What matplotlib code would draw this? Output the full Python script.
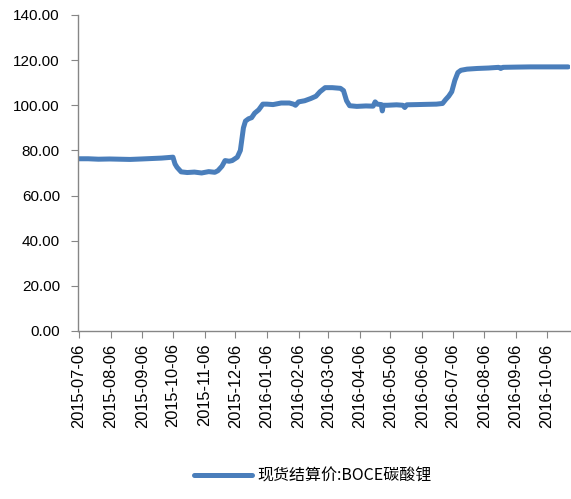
import matplotlib
matplotlib.use("Agg")
import matplotlib.pyplot as plt
import pandas as pd

plt.rcParams['font.family'] = ['Noto Sans CJK SC', 'DejaVu Sans']

series_name = "现货结算价:BOCE碳酸锂"
dates = [
    "2015-07-06", "2015-07-15", "2015-07-25", "2015-08-05", "2015-08-15", "2015-08-25",
    "2015-09-05", "2015-09-15", "2015-09-25", "2015-10-06", "2015-10-08", "2015-10-10",
    "2015-10-14", "2015-10-20", "2015-10-27", "2015-11-03", "2015-11-10", "2015-11-16",
    "2015-11-19", "2015-11-23", "2015-11-26", "2015-11-30", "2015-12-03", "2015-12-08",
    "2015-12-11", "2015-12-14", "2015-12-16", "2015-12-19", "2015-12-22", "2015-12-25",
    "2015-12-29", "2016-01-02", "2016-01-06", "2016-01-12", "2016-01-20", "2016-01-28",
    "2016-02-01", "2016-02-03", "2016-02-06", "2016-02-12", "2016-02-18", "2016-02-23",
    "2016-02-27", "2016-03-03", "2016-03-10", "2016-03-18", "2016-03-21", "2016-03-24",
    "2016-03-27", "2016-04-03", "2016-04-12", "2016-04-19", "2016-04-21", "2016-04-23",
    "2016-04-27", "2016-04-28", "2016-04-29", "2016-05-03", "2016-05-12", "2016-05-18",
    "2016-05-20", "2016-05-22", "2016-06-01", "2016-06-10", "2016-06-20", "2016-06-26",
    "2016-06-29", "2016-07-02", "2016-07-05", "2016-07-08", "2016-07-11", "2016-07-14",
    "2016-07-20", "2016-07-30", "2016-08-10", "2016-08-20", "2016-08-22", "2016-08-24",
    "2016-09-05", "2016-09-20", "2016-10-05", "2016-10-20", "2016-10-27",
]
values = [
    76.3, 76.3, 76.1, 76.2, 76.1, 76.0,
    76.2, 76.4, 76.6, 77.0, 74.0, 72.5,
    70.5, 70.2, 70.4, 70.0, 70.6, 70.3,
    71.0, 73.0, 75.5, 75.2, 75.5, 77.0,
    80.0, 90.0, 93.0, 94.0, 94.5, 96.5,
    98.0, 100.5, 100.5, 100.3, 101.0, 101.0,
    100.5, 100.0, 101.5, 102.0, 103.0, 104.0,
    106.0, 107.8, 107.8, 107.5, 106.5, 102.0,
    99.8, 99.5, 99.7, 99.6, 101.5, 100.5,
    100.3, 97.5, 100.0, 100.0, 100.2, 100.0,
    99.0, 100.2, 100.3, 100.4, 100.5, 100.8,
    102.5, 104.0, 106.0, 111.0, 114.5, 115.5,
    116.0, 116.3, 116.5, 116.8, 116.3, 116.8,
    116.9, 117.0, 117.0, 117.0, 117.0,
]
xtick_labels = [
    "2015-07-06", "2015-08-06", "2015-09-06", "2015-10-06", "2015-11-06", "2015-12-06",
    "2016-01-06", "2016-02-06", "2016-03-06", "2016-04-06", "2016-05-06", "2016-06-06",
    "2016-07-06", "2016-08-06", "2016-09-06", "2016-10-06",
]
yticks = [0, 20, 40, 60, 80, 100, 120, 140]

x = pd.to_datetime(dates)
color = "#4A7EBB"
grey = "#868686"
latin = ['Liberation Sans', 'DejaVu Sans']

fig = plt.figure(figsize=(5.71, 4.99), dpi=100)
ax = fig.add_axes([0.1366, 0.3367, 0.862, 0.6333])
ax.plot(x, values, color=color, linewidth=3.6, solid_capstyle="round",
        solid_joinstyle="round", label=series_name)

ax.set_xlim(pd.Timestamp("2015-07-05"), pd.Timestamp("2016-10-29"))
ax.set_ylim(0, 140)
ax.set_yticks(yticks)
ax.set_yticklabels([f"{v:.2f}" for v in yticks], fontsize=11, family=latin)
xt = pd.to_datetime(xtick_labels)
ax.set_xticks(xt)
ax.set_xticklabels(xtick_labels, rotation=90, fontsize=11.8, family=latin)

for s in ["top", "right"]:
    ax.spines[s].set_visible(False)
for s in ["left", "bottom"]:
    ax.spines[s].set_color(grey)
    ax.spines[s].set_linewidth(1.0)
ax.tick_params(axis="both", direction="out", length=5, color=grey, labelcolor="black")
ax.tick_params(axis="y", pad=8)
ax.tick_params(axis="x", pad=4)

fig.legend(loc="lower center", bbox_to_anchor=(0.548, 0.0), frameon=False, fontsize=11.5,
           handlelength=3.6, handletextpad=0.35)

fig.savefig("out.png", dpi=100)
